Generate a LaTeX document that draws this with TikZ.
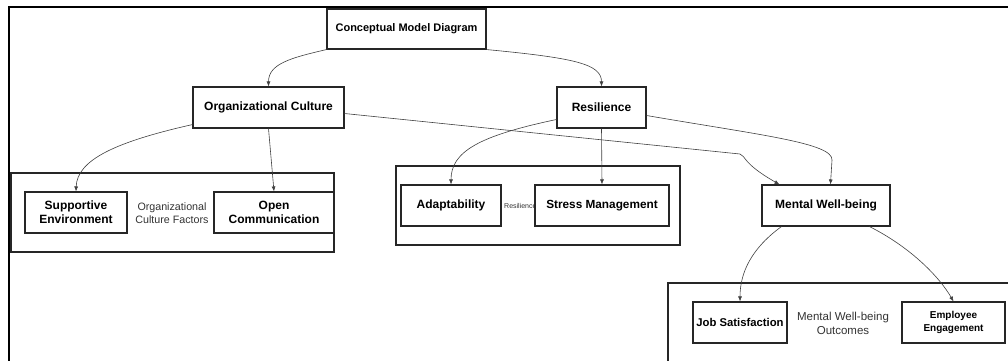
\documentclass[tikz,border=0pt]{standalone}
\usepackage{fontspec}
\setmainfont{Liberation Sans}
\usetikzlibrary{arrows.meta,calc}
\begin{document}
\begin{tikzpicture}[x=1pt,y=-1pt,
  box/.style={draw=black!85,line width=1.1pt,fill=white,inner sep=0pt,align=center,font=\bfseries\fontsize{12}{14}\selectfont},
  grp/.style={draw=black!85,line width=1.1pt,inner sep=0pt},
  lbl/.style={inner sep=0pt,align=center,font=\fontsize{10.7}{13}\selectfont,text=black!80},
  conn/.style={draw=black!75,line width=0.6pt,-{Latex[length=5pt,width=4pt]}}]
\useasboundingbox (0,0) rectangle (1008,360);
% outer frame
\draw[line width=2pt,black] (9,361) -- (9,7) -- (1009,7);
% group boxes
\node[grp,minimum width=323pt,minimum height=79pt] (ocg) at (172.5,212.5) {};
\node[grp,minimum width=284pt,minimum height=79pt] (resg) at (538,205.5) {};
\draw[draw=black!85,line width=1.1pt] (1010,283) -- (668,283) -- (668,362);
\coordinate (mwg) at (668,283);
% group labels
\node[lbl] (ocl) at (172,213) {Organizational\\Culture Factors};
\node[lbl,anchor=west,font=\fontsize{7}{8}\selectfont] (resl) at (504,206) {Resilience};
\node[lbl,font=\fontsize{11.5}{14}\selectfont] (mwl) at (843,323) {Mental Well-being\\Outcomes};
% boxes
\node[box,minimum width=159pt,minimum height=40pt,font=\bfseries\fontsize{11}{13}\selectfont] (cmd) at (406.5,29) {Conceptual Model Diagram};
\node[box,minimum width=151pt,minimum height=41pt] (oc) at (268.5,107.5) {Organizational Culture};
\node[box,minimum width=89pt,minimum height=41pt] (res) at (601.5,107.5) {Resilience};
\node[box,minimum width=102pt,minimum height=41pt] (sup) at (76,212.5) {Supportive\\Environment};
\node[box,minimum width=120pt,minimum height=41pt] (open) at (274,212.5) {Open\\Communication};
\node[box,minimum width=100pt,minimum height=41pt] (ada) at (451,205.5) {Adaptability};
\node[box,minimum width=134pt,minimum height=41pt,font=\bfseries\fontsize{11.8}{14}\selectfont] (stress) at (602,205.5) {Stress Management};
\node[box,minimum width=128pt,minimum height=41pt] (mw) at (826,205.5) {Mental Well-being};
\node[box,minimum width=94pt,minimum height=41pt,font=\bfseries\fontsize{11.3}{13}\selectfont] (job) at (740,322.5) {Job Satisfaction};
\node[box,minimum width=103pt,minimum height=41pt,font=\bfseries\fontsize{10}{13}\selectfont] (emp) at (953.5,322.5) {Employee\\Engagement};
% connectors
\draw[conn] (cmd.south west) .. controls (290,58) and (268.5,64) .. (oc.north);
\draw[conn] (cmd.south east) .. controls (575,58) and (601.5,64) .. (res.north);
\draw[conn] ($(oc.south west)+(0,-4)$) .. controls (115,142) and (77,160) .. (sup.north);
\draw[conn] (oc.south) -- (open.north);
\draw[conn] ($(oc.east)+(0,6)$) -- (740,154) .. controls (746,156) and (742,163) .. ($(mw.north west)+(18,0)$);
\draw[conn] ($(res.west)+(0,12)$) .. controls (478,136) and (451,152) .. (ada.north);
\draw[conn] (res.south) -- (stress.north);
\draw[conn] ($(res.east)+(0,8)$) .. controls (760,135) and (833,143) .. (832,160) -- ($(mw.north west)+(69,0)$);
\draw[conn] ($(mw.south west)+(20,0)$) .. controls (752,248) and (740,272) .. (job.north);
\draw[conn] ($(mw.south west)+(108,0)$) .. controls (912,248) and (940,278) .. (emp.north);
\end{tikzpicture}
\end{document}
